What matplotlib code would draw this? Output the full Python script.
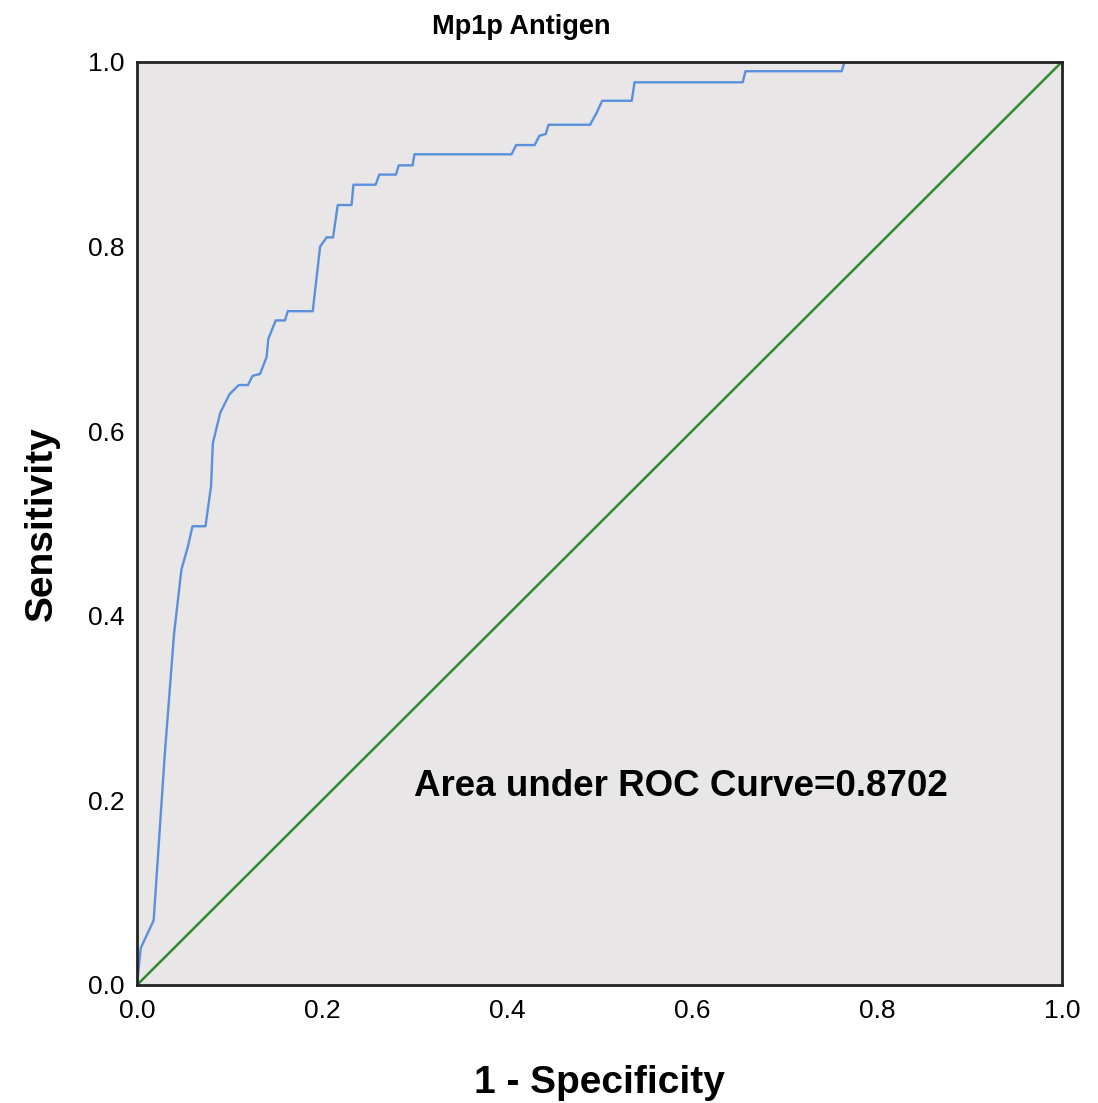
import matplotlib
matplotlib.use("Agg")
import matplotlib.pyplot as plt

# ROC curve points
fpr = [0.0, 0.004, 0.011, 0.018, 0.03, 0.04, 0.048, 0.055, 0.06, 0.074,
       0.08, 0.082, 0.09, 0.1, 0.11, 0.12, 0.125, 0.133, 0.14, 0.142,
       0.15, 0.16, 0.163, 0.19, 0.198, 0.205, 0.212, 0.217, 0.232, 0.234,
       0.258, 0.262, 0.28, 0.283, 0.298, 0.3, 0.405, 0.41, 0.43, 0.435,
       0.442, 0.445, 0.49, 0.497, 0.503, 0.535, 0.538, 0.655, 0.658, 0.762,
       0.765, 1.0]
tpr = [0.0, 0.04, 0.055, 0.07, 0.25, 0.38, 0.45, 0.475, 0.497, 0.497,
       0.54, 0.587, 0.62, 0.64, 0.65, 0.65, 0.66, 0.662, 0.68, 0.70,
       0.72, 0.72, 0.73, 0.73, 0.80, 0.81, 0.81, 0.845, 0.845, 0.867,
       0.867, 0.878, 0.878, 0.888, 0.888, 0.90, 0.90, 0.91, 0.91, 0.92,
       0.922, 0.932, 0.932, 0.945, 0.958, 0.958, 0.978, 0.978, 0.99, 0.99,
       1.0, 1.0]
ref_line = [0.0, 1.0]
ticks = [0.0, 0.2, 0.4, 0.6, 0.8, 1.0]
auc_text = "Area under ROC Curve=0.8702"

fam = ["Liberation Sans", "DejaVu Sans"]

fig = plt.figure(figsize=(10.98, 11.03), dpi=100)
ax = fig.add_axes([0.1248, 0.107, 0.8422, 0.8368])
ax.set_facecolor("#e8e6e6")

ax.plot(ref_line, ref_line, color="#2e8b2e", lw=1.8)
ax.plot(fpr, tpr, color="#5a90dc", lw=1.7)

ax.set_xlim(0, 1)
ax.set_ylim(0, 1)
ax.set_xticks(ticks)
ax.set_yticks(ticks)
ax.set_xticklabels(["%.1f" % t for t in ticks])
ax.set_yticklabels(["%.1f" % t for t in ticks])
ax.tick_params(length=0, labelsize=19)
ax.tick_params(axis="x", pad=10)
ax.tick_params(axis="y", pad=9)
for s in ax.spines.values():
    s.set_linewidth(2)
    s.set_color("#222222")

ax.set_xlabel("1 - Specificity", fontsize=28, fontweight="bold",
              family=fam, labelpad=30)
ax.set_ylabel("Sensitivity", fontsize=28, fontweight="bold",
              family=fam, labelpad=20)
fig.text(0.475, 0.9755, "Mp1p Antigen", fontsize=19.5, fontweight="bold",
         family=["Liberation Sans Narrow"] + fam, ha="center", va="center")
ax.text(0.3, 0.215, auc_text, fontsize=26.5, fontweight="bold",
        family=fam, va="center")

for lab in ax.get_xticklabels() + ax.get_yticklabels():
    lab.set_family(fam)

fig.savefig("out.png", dpi=100)
